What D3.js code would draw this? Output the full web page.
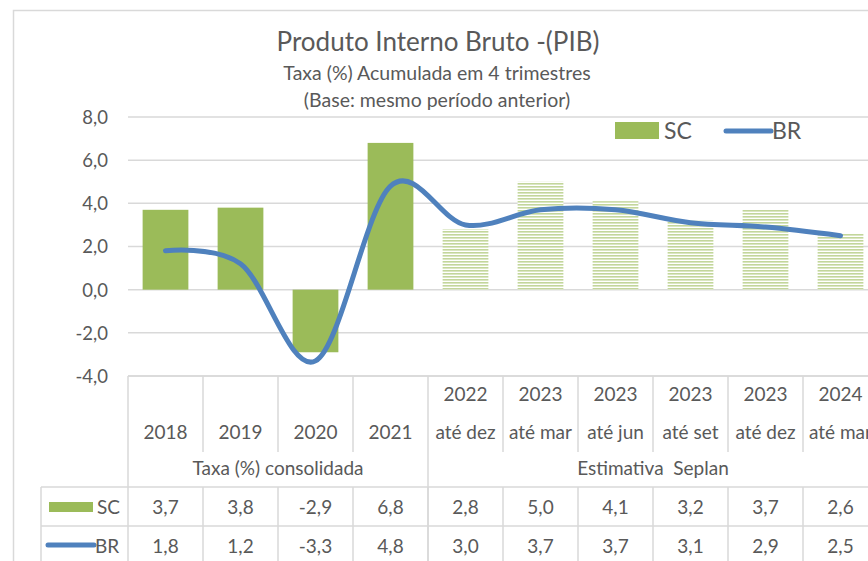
<!DOCTYPE html>
<html>
<head>
<meta charset="utf-8">
<script src="https://cdn.jsdelivr.net/npm/d3@7"></script>
<style>
  body { margin: 0; background: #fff; }
  svg { display: block; font-family: Lato, "Open Sans", sans-serif; }
  text { fill: #595959; }
</style>
</head>
<body>
<svg id="chart" width="868" height="561"></svg>
<script>
// data
var years = ["2018", "2019", "2020", "2021", "2022", "2023", "2023", "2023", "2023", "2024"];
var periods = ["", "", "", "", "até dez", "até mar", "até jun", "até set", "até dez", "até mar"];
var groups = [
  { label: "Taxa (%) consolidada", from: 0, to: 4 },
  { label: "Estimativa  Seplan", from: 4, to: 10 }
];
var scValues = [3.7, 3.8, -2.9, 6.8, 2.8, 5.0, 4.1, 3.2, 3.7, 2.6];
var brValues = [1.8, 1.2, -3.3, 4.8, 3.0, 3.7, 3.7, 3.1, 2.9, 2.5];
var estimate = [false, false, false, false, true, true, true, true, true, true];
var yTicks = [-4, -2, 0, 2, 4, 6, 8];

var green = "#9bbb59", greenLight = "#c3d69b", blue = "#4f81bd", grid = "#d9d9d9";

var svg = d3.select("#chart");
// comma decimals, plain hyphen for negatives
var fmt = function(v) { return d3.format(".1f")(v).replace(".", ",").replace("\u2212", "-"); };

// stripes for the estimated bars
var defs = svg.append("defs");
var pat = defs.append("pattern")
    .attr("id", "stripes")
    .attr("patternUnits", "userSpaceOnUse")
    .attr("width", 6).attr("height", 3);
pat.append("rect").attr("width", 6).attr("height", 3).attr("fill", "#fff");
pat.append("rect").attr("width", 6).attr("height", 1.6).attr("fill", greenLight);

// outer chart border
svg.append("rect")
    .attr("x", 13.5).attr("y", 10.5)
    .attr("width", 900).attr("height", 600)
    .attr("fill", "none").attr("stroke", grid).attr("stroke-width", 1.5);

var idx = d3.range(years.length);
var x = d3.scaleBand().domain(idx).range([128, 878]).paddingInner(0.39).paddingOuter(0.195);
var xCol = d3.scaleBand().domain(idx).range([128, 878]);
var y = d3.scaleLinear().domain([-4, 8]).range([376, 117]);

// gridlines
svg.append("g").selectAll("line")
  .data(yTicks)
  .join("line")
    .attr("x1", 128).attr("x2", 880)
    .attr("y1", function(d) { return y(d); })
    .attr("y2", function(d) { return y(d); })
    .attr("stroke", grid).attr("stroke-width", 1.5);

// y axis labels
var yAxis = d3.axisLeft(y).tickValues(yTicks).tickFormat(fmt).tickSize(0).tickPadding(0);
var gy = svg.append("g").attr("transform", "translate(108,0)").call(yAxis);
gy.select(".domain").remove();
gy.selectAll("text").attr("font-size", 18.5).attr("font-family", "Lato, sans-serif").attr("fill", "#595959").attr("dy", "0.35em");

// bars
svg.append("g").selectAll("rect")
  .data(idx)
  .join("rect")
    .attr("x", function(i) { return x(i); })
    .attr("width", x.bandwidth())
    .attr("y", function(i) { return y(Math.max(0, scValues[i])); })
    .attr("height", function(i) { return Math.abs(y(scValues[i]) - y(0)); })
    .attr("fill", function(i) { return estimate[i] ? "url(#stripes)" : green; });

// smoothed BR line
var line = d3.line()
    .x(function(i) { return xCol(i) + xCol.bandwidth() / 2; })
    .y(function(i) { return y(brValues[i]); })
    .curve(d3.curveCatmullRom.alpha(0));
svg.append("path")
    .datum(idx)
    .attr("d", line)
    .attr("fill", "none")
    .attr("stroke", blue)
    .attr("stroke-width", 5)
    .attr("stroke-linecap", "round");

// titles
svg.append("text").attr("x", 438).attr("y", 51).attr("text-anchor", "middle")
    .attr("font-size", 26).text("Produto Interno Bruto -(PIB)");
svg.append("text").attr("x", 437).attr("y", 80).attr("text-anchor", "middle")
    .attr("font-size", 19.5).text("Taxa (%) Acumulada em 4 trimestres");
svg.append("text").attr("x", 437).attr("y", 107).attr("text-anchor", "middle")
    .attr("font-size", 19.5).text("(Base: mesmo período anterior)");

// legend
var lg = svg.append("g");
lg.append("rect").attr("x", 615).attr("y", 122).attr("width", 44).attr("height", 17).attr("fill", green);
lg.append("text").attr("x", 664).attr("y", 139).attr("font-size", 23).text("SC");
lg.append("line").attr("x1", 726).attr("x2", 771).attr("y1", 131).attr("y2", 131)
    .attr("stroke", blue).attr("stroke-width", 5).attr("stroke-linecap", "round");
lg.append("text").attr("x", 772).attr("y", 139).attr("font-size", 23).text("BR");

// data table
var tTop = 376, tYear = 452, tGroup = 487, tSC = 526, tBR = 565;
var tb = svg.append("g").attr("stroke", grid).attr("stroke-width", 1.5);
tb.append("line").attr("x1", 128).attr("x2", 880).attr("y1", tTop).attr("y2", tTop);
tb.append("line").attr("x1", 41).attr("x2", 880).attr("y1", tGroup).attr("y2", tGroup);
tb.append("line").attr("x1", 41).attr("x2", 880).attr("y1", tSC).attr("y2", tSC);
tb.append("line").attr("x1", 41).attr("x2", 41).attr("y1", tGroup).attr("y2", tBR);
tb.append("line").attr("x1", 128).attr("x2", 128).attr("y1", tTop).attr("y2", tBR);
// header separators: short inside a group, full height at group edges
tb.selectAll(".col")
  .data(d3.range(1, years.length + 1))
  .join("line")
    .attr("x1", function(i) { return xCol(i) !== undefined ? xCol(i) : 878; })
    .attr("x2", function(i) { return xCol(i) !== undefined ? xCol(i) : 878; })
    .attr("y1", tTop)
    .attr("y2", function(i) {
      var isGroupEdge = groups.some(function(g) { return g.to === i; });
      return isGroupEdge ? tBR : tYear;
    });
tb.selectAll(".col2")
  .data(d3.range(1, years.length))
  .join("line")
    .attr("x1", function(i) { return xCol(i); })
    .attr("x2", function(i) { return xCol(i); })
    .attr("y1", tGroup).attr("y2", tBR);

var cx = function(i) { return xCol(i) + xCol.bandwidth() / 2; };
var hdr = svg.append("g").attr("font-size", 19).attr("text-anchor", "middle");
hdr.selectAll(".yr")
  .data(idx)
  .join("text")
    .attr("x", cx)
    .attr("y", function(i) { return periods[i] ? 401 : 439; })
    .text(function(i) { return years[i]; });
hdr.selectAll(".pd")
  .data(idx.filter(function(i) { return periods[i]; }))
  .join("text")
    .attr("x", cx)
    .attr("y", 439)
    .text(function(i) { return periods[i]; });
hdr.selectAll(".grp")
  .data(groups)
  .join("text")
    .attr("x", function(g) { return (xCol(g.from) + (g.to < years.length ? xCol(g.to) : 878)) / 2; })
    .attr("y", 475)
    .attr("xml:space", "preserve")
    .text(function(g) { return g.label; });

var rows = svg.append("g").attr("font-size", 19).attr("text-anchor", "middle");
rows.selectAll(".sc")
  .data(idx)
  .join("text")
    .attr("x", cx).attr("y", 514)
    .text(function(i) { return fmt(scValues[i]); });
rows.selectAll(".br")
  .data(idx)
  .join("text")
    .attr("x", cx).attr("y", 553)
    .text(function(i) { return fmt(brValues[i]); });

// table legend keys
svg.append("rect").attr("x", 49).attr("y", 502).attr("width", 44).attr("height", 10).attr("fill", green);
svg.append("text").attr("x", 97).attr("y", 514).attr("font-size", 19).text("SC");
svg.append("line").attr("x1", 48).attr("x2", 94).attr("y1", 545).attr("y2", 545)
    .attr("stroke", blue).attr("stroke-width", 5).attr("stroke-linecap", "round");
svg.append("text").attr("x", 95).attr("y", 553).attr("font-size", 19).text("BR");
</script>
</body>
</html>
